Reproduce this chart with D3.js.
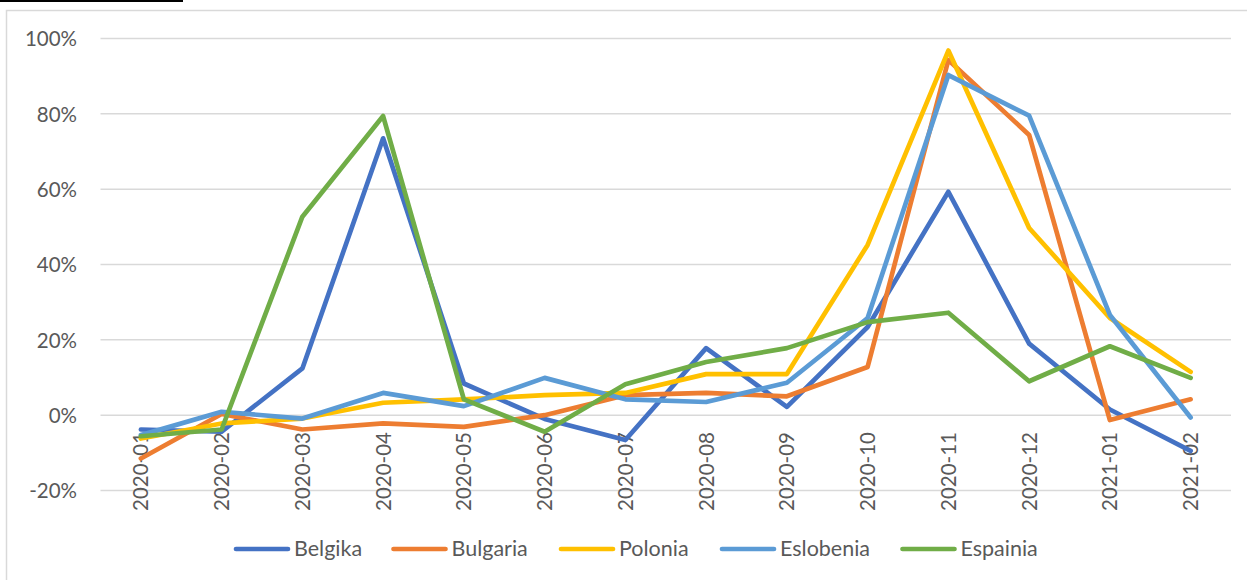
<!DOCTYPE html>
<html>
<head>
<meta charset="utf-8">
<script src="https://cdn.jsdelivr.net/npm/d3@7/dist/d3.min.js"></script>
<style>
  html, body { margin: 0; padding: 0; background: #fff; }
  svg { display: block; }
  text { font-family: Lato, "Open Sans", sans-serif; fill: #595959; }
</style>
</head>
<body>
<svg id="chart" width="1247" height="580"></svg>
<script>
const categories = ["2020-01","2020-02","2020-03","2020-04","2020-05","2020-06","2020-07","2020-08","2020-09","2020-10","2020-11","2020-12","2021-01","2021-02"];
const seriesNames = ["Belgika","Bulgaria","Polonia","Eslobenia","Espainia"];
const belgika   = [-3.8, -4.4, 12.4, 73.5, 8.4, -1.0, -6.6, 17.8, 2.2, 23.4, 59.3, 19.0, 1.5, -9.5];
const bulgaria  = [-11.5, 0.3, -3.8, -2.2, -3.1, 0.0, 5.3, 5.9, 5.0, 12.8, 94.3, 74.4, -1.3, 4.2];
const polonia   = [-6.2, -2.2, -0.9, 3.3, 4.2, 5.3, 5.9, 10.9, 10.9, 45.2, 96.8, 49.7, 25.8, 11.5];
const eslobenia = [-5.3, 0.9, -0.9, 5.9, 2.4, 9.9, 4.2, 3.5, 8.6, 25.8, 90.3, 79.5, 26.6, -0.6];
const espainia  = [-5.6, -3.8, 52.7, 79.4, 4.2, -4.4, 8.2, 14.1, 17.8, 24.7, 27.2, 9.0, 18.3, 9.9];
const yTicks = [-20, 0, 20, 40, 60, 80, 100];
const colors = ["#4472C4", "#ED7D31", "#FFC000", "#5B9BD5", "#70AD47"];
const values = [belgika, bulgaria, polonia, eslobenia, espainia];

const svg = d3.select("#chart");

// decoration: cropped black line and chart border
svg.append("rect").attr("x", 0).attr("y", 0).attr("width", 183).attr("height", 2).attr("fill", "#000");
svg.append("rect").attr("x", 6.5).attr("y", 10.5).attr("width", 1260).attr("height", 600)
  .attr("fill", "none").attr("stroke", "#d9d9d9").attr("stroke-width", 1.5);

const x = d3.scaleBand().domain(categories).range([100.5, 1231]);
const y = d3.scaleLinear().domain([-20, 100]).range([490.5, 38.5]);
const cx = d => x(d) + x.bandwidth() / 2;

// gridlines
svg.append("g").selectAll("line").data(yTicks).join("line")
  .attr("x1", 100.5).attr("x2", 1231)
  .attr("y1", d => y(d)).attr("y2", d => y(d))
  .attr("stroke", "#d9d9d9").attr("stroke-width", 1.5);

// y axis labels
const yAxis = d3.axisLeft(y).tickValues(yTicks).tickFormat(d => d + "%").tickSize(0).tickPadding(0);
const yg = svg.append("g").attr("transform", "translate(77,0)").call(yAxis);
yg.select(".domain").remove();
yg.selectAll("text").attr("font-size", 20.5).attr("fill", "#595959")
  .style("font-family", "Lato, 'Open Sans', sans-serif").attr("dy", "0.36em");

// x axis labels
svg.append("g").selectAll("text").data(categories).join("text")
  .attr("transform", d => `translate(${cx(d) + 7.5},432) rotate(-90)`)
  .attr("text-anchor", "end")
  .attr("font-size", 20.5)
  .text(d => d);

// lines
const line = d3.line().x((d, i) => cx(categories[i])).y(d => y(d));
svg.append("g").selectAll("path").data(values).join("path")
  .attr("d", d => line(d))
  .attr("fill", "none")
  .attr("stroke", (d, i) => colors[i])
  .attr("stroke-width", 4.7)
  .attr("stroke-linejoin", "round")
  .attr("stroke-linecap", "round");

// legend
const legendX = [234, 391.5, 559, 720, 900.5];
const lg = svg.append("g");
seriesNames.forEach((name, i) => {
  lg.append("line").attr("x1", legendX[i] + 2).attr("x2", legendX[i] + 54)
    .attr("y1", 549).attr("y2", 549)
    .attr("stroke", colors[i]).attr("stroke-width", 4.7).attr("stroke-linecap", "round");
  lg.append("text").attr("x", legendX[i] + 60).attr("y", 556).attr("font-size", 21.5).text(name);
});
</script>
</body>
</html>
